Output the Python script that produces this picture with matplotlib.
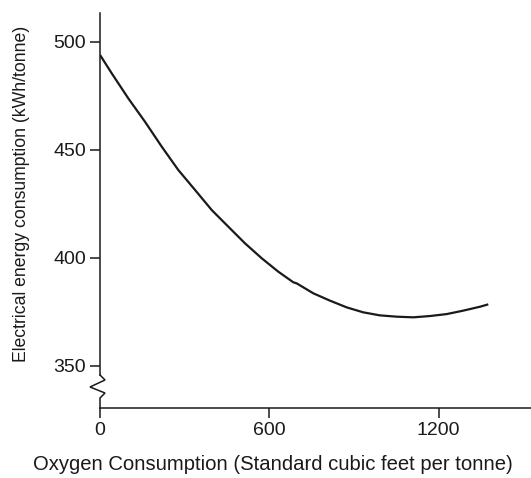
import matplotlib
matplotlib.use("Agg")
import matplotlib.pyplot as plt

# data
oxygen = [0, 41.5, 100.3, 159.5, 218.7, 277.5, 336.7, 395.9, 454.7, 513.9,
          573.1, 631.9, 685.0, 697.1, 756.0, 815.2, 874.3, 933.2, 992.3,
          1051.5, 1110.3, 1169.5, 1228.7, 1287.6, 1346.7, 1376.1]
energy = [493.8, 485.3, 473.7, 462.9, 451.4, 440.6, 431.4, 422.1, 414.4, 406.7,
          399.8, 393.6, 388.7, 388.2, 383.6, 380.2, 377.1, 374.8, 373.4,
          372.8, 372.5, 373.1, 374.0, 375.6, 377.4, 378.5]
x_ticks = [0, 600, 1200]
y_ticks = [350, 400, 450, 500]

plt.rcParams["font.family"] = ["Liberation Sans", "DejaVu Sans"]
ink = "#1a1a1a"

fig = plt.figure(figsize=(5.31, 4.78), dpi=100)
ax = fig.add_axes([100 / 531, 1 - 408 / 478, 431 / 531, (408 - 13) / 478])

xmax = 431 * 600 / 169.3
ymin = 350 - (408 - 366) / 2.1633
ymax = 500 + 28.5 / 2.1633
ax.set_xlim(0, xmax)
ax.set_ylim(ymin, ymax)

ax.plot(oxygen, energy, color=ink, lw=1.6, solid_capstyle="butt")

# spines
for s in ["top", "right"]:
    ax.spines[s].set_visible(False)
for s in ["left", "bottom"]:
    ax.spines[s].set_color(ink)
    ax.spines[s].set_linewidth(1.1)

# broken axis mark on the y axis
def px2d(px, py):
    return (px - 100) * 600 / 169.3, 350 - (py - 366) / 2.1633

brk_top = px2d(100, 375)[1]
ax.spines["left"].set_bounds(brk_top, ymax)
zig = [px2d(100, 375), px2d(105, 380), px2d(90, 387), px2d(105, 393),
       px2d(100, 398), px2d(100, 408)]
ax.plot([p[0] for p in zig], [p[1] for p in zig], color=ink, lw=1.1,
        clip_on=False, solid_joinstyle="miter")

ax.set_xticks(x_ticks)
ax.set_yticks(y_ticks)
ax.tick_params(direction="out", length=7, width=1.1, color=ink,
               labelcolor=ink, labelsize=14, pad=3)

fig.text(21.5 / 531, 1 - 194 / 478, "Electrical energy consumption (kWh/tonne)",
         rotation=90, ha="center", va="center", fontsize=12.7, color=ink)
fig.text(273 / 531, 1 - 465 / 478,
         "Oxygen Consumption (Standard cubic feet per tonne)",
         ha="center", va="center", fontsize=14.6, color=ink)

fig.savefig("out.png", dpi=100)
